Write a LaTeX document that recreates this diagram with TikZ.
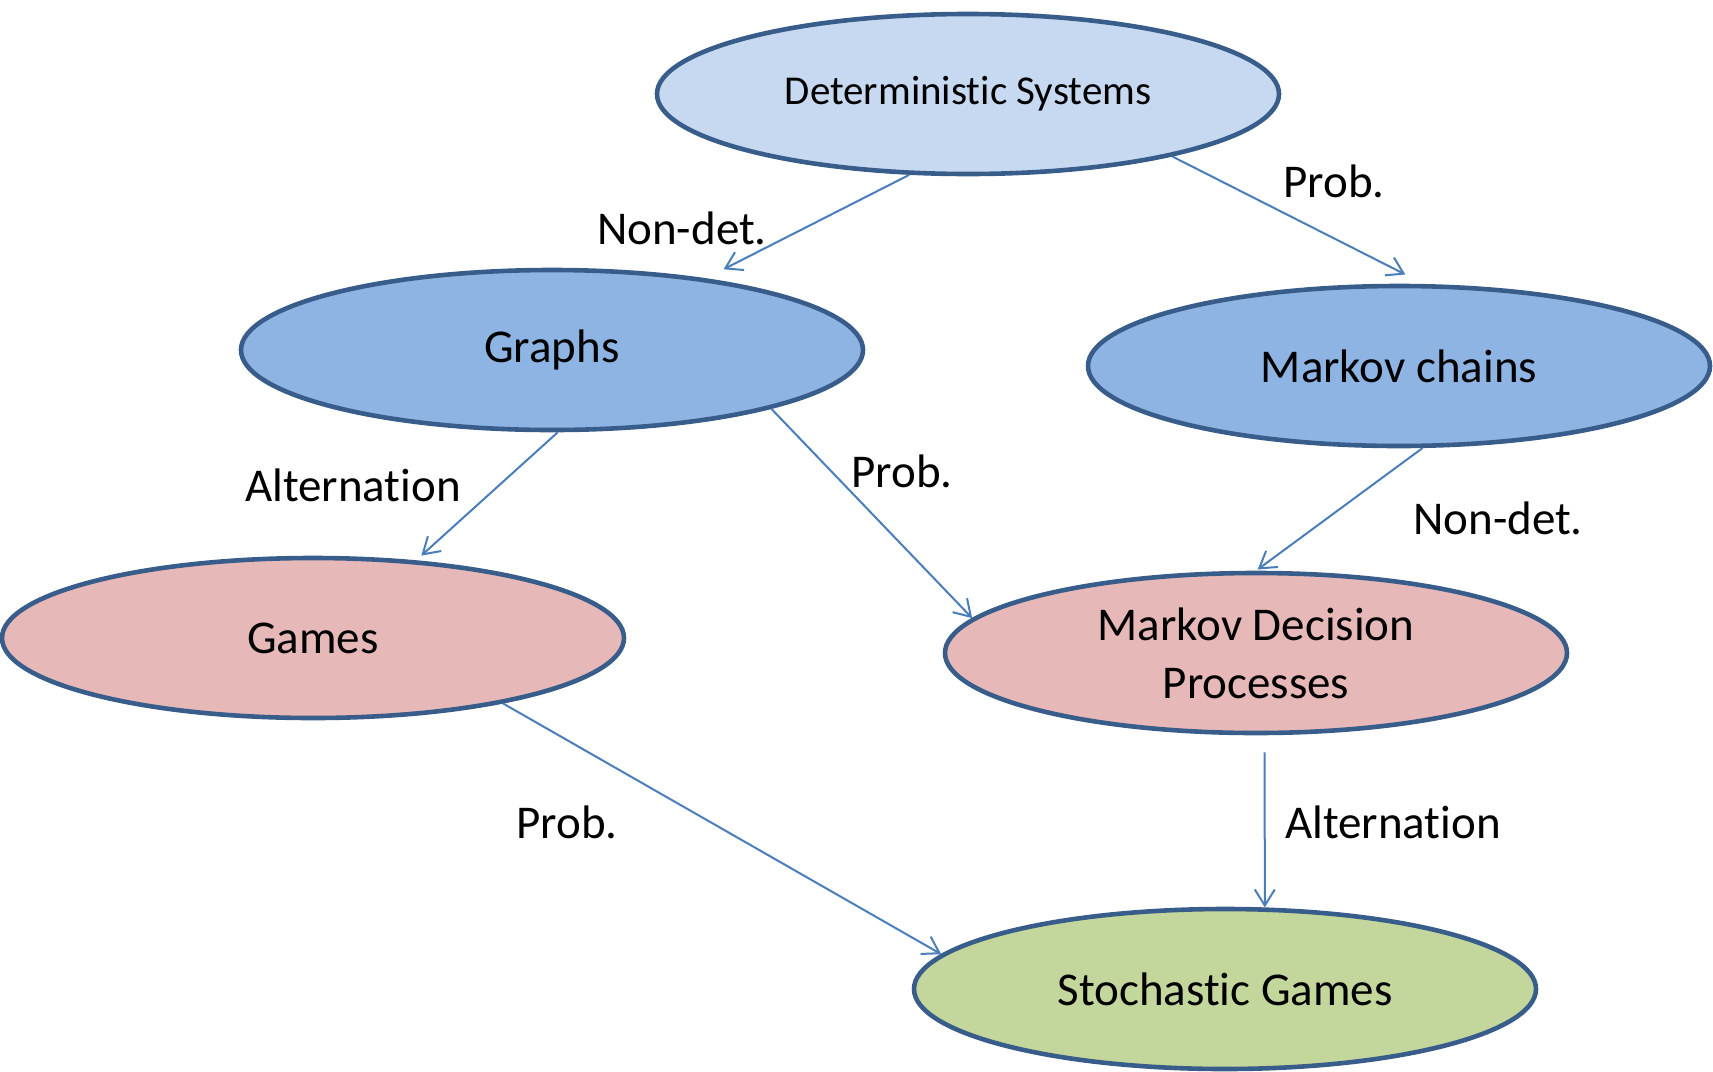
\documentclass[tikz,border=0pt]{standalone}
\usepackage{fontspec}
\setmainfont{Carlito}[Ligatures=NoCommon]
\usepackage{tikz}
\usetikzlibrary{arrows.meta, shapes.geometric}
\definecolor{rim}{RGB}{56, 93, 138}
\definecolor{link}{RGB}{74, 126, 187}
\definecolor{paleblue}{RGB}{198, 217, 241}
\definecolor{midblue}{RGB}{142, 180, 227}
\definecolor{rose}{RGB}{230, 185, 184}
\definecolor{sage}{RGB}{195, 214, 155}

\begin{document}
\begin{tikzpicture}[x=0.5pt, y=-0.5pt,
    model/.style={ellipse, draw=rim, line width=2.3pt, minimum width=311pt,
        minimum height=80pt, inner sep=0pt, align=center,
        font=\fontsize{23.5}{29}\selectfont},
    edge/.style={link, line width=1pt, -{Straight Barb[length=8pt, width=10pt]}},
    tag/.style={font=\fontsize{23.5}{29}\selectfont}]
    \useasboundingbox (0,0) rectangle (1713,1071);

    % Models
    \node[model, fill=paleblue, font=\fontsize{20.5}{25}\selectfont] (det) at (968,94) {Deterministic Systems};
    \node[model, fill=midblue] (graphs) at (552,350) {Graphs};
    \node[model, fill=midblue] (markov) at (1399,366) {Markov chains};
    \node[model, fill=rose] (games) at (313,638) {Games};
    \node[model, fill=rose] (mdp) at (1256,653) {Markov Decision\\Processes};
    \node[model, fill=sage] (stoch) at (1225,989) {Stochastic Games};

    % Extensions
    \draw[edge, shorten >=10pt] (det.234.7) -- (graphs.25);
    \draw[edge, shorten >=10.5pt] (det.343) -- (markov.73.3);
    \draw[edge, shorten >=3.5pt] (graphs.274) -- (games.37.7);
    \draw[edge] (graphs.345.5) -- (mdp.173.5);
    \draw[edge, shorten >=1pt] (markov.286) -- (mdp.90);
    \draw[edge] (games.341) -- (stoch.173.2);
    \draw[edge, shorten <=8.5pt] (mdp.276) -- (stoch.64);

    % Labels
    \node[tag] (nd1) at (682,228) {Non-det.};
    \node[tag] (pr1) at (1334,181) {Prob.};
    \node[tag] (al1) at (353,485) {Alternation};
    \node[tag] (pr2) at (902,471) {Prob.};
    \node[tag] (nd2) at (1498,518) {Non-det.};
    \node[tag] (pr3) at (567,822) {Prob.};
    \node[tag] (al2) at (1393,822) {Alternation};
\end{tikzpicture}
\end{document}
